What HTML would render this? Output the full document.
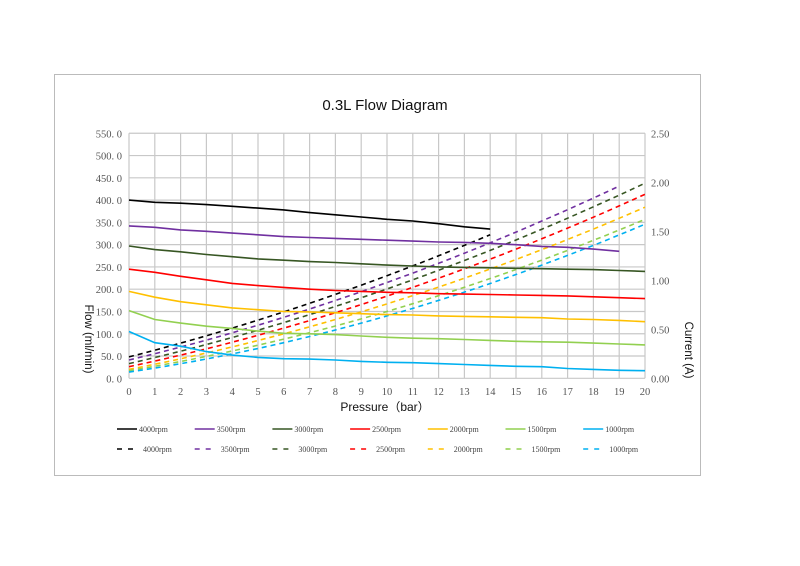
<!DOCTYPE html>
<html><head><meta charset="utf-8"><style>
html,body{margin:0;padding:0;background:#fff;}
svg{display:block;}
</style></head><body>
<svg id="s" width="800" height="566" xmlns="http://www.w3.org/2000/svg" font-family="Liberation Serif, serif">
<rect x="54.5" y="74.5" width="646" height="401" fill="#fff" stroke="#bbb" stroke-width="1"/>
<text x="385" y="110" font-family="Liberation Sans, sans-serif" font-size="15" text-anchor="middle" fill="#111">0.3L Flow Diagram</text>
<g id="grid"></g>
<g id="series"></g>
<g id="labels" font-size="10.5" fill="#555"></g>
<text x="385" y="411" font-family="Liberation Sans, sans-serif" font-size="12" text-anchor="middle" fill="#111">Pressure（bar）</text>
<text transform="translate(85,339) rotate(90)" font-family="Liberation Sans, sans-serif" font-size="11.5" text-anchor="middle" fill="#111">Flow (ml/min)</text>
<text transform="translate(685,350) rotate(90)" font-family="Liberation Sans, sans-serif" font-size="11.5" text-anchor="middle" fill="#111">Current (A)</text>
<g id="legend" font-size="8" fill="#444"></g>
</svg>
<script>
var NS="http://www.w3.org/2000/svg";
function el(p,t,a,txt){var e=document.createElementNS(NS,t);for(var k in a)e.setAttribute(k,a[k]);if(txt!=null)e.textContent=txt;document.getElementById(p).appendChild(e);return e;}
function X(p){return 129+25.8*p;}
function Y(v){return 378.3-0.4455*v;}
for(var i=0;i<=20;i++){el("grid","line",{x1:X(i),x2:X(i),y1:Y(550),y2:Y(0),stroke:"#c8c8c8","stroke-width":1.2});
 el("labels","text",{x:X(i),y:395,"text-anchor":"middle"},String(i));}
for(var v=0;v<=550;v+=50){el("grid","line",{x1:X(0),x2:X(20),y1:Y(v),y2:Y(v),stroke:"#c8c8c8","stroke-width":1.2});
 el("labels","text",{x:122,y:Y(v)+4,"text-anchor":"end"},(v/1).toFixed(0)+". 0");}
for(var k=0;k<=5;k++){el("labels","text",{x:651,y:Y(k*110)+4},(k*0.5).toFixed(2));}
var cols=["#000000","#7030a0","#375623","#ff0000","#ffc000","#92d050","#00b0f0"];
var solid=[
[400,395,393,390,386,382,378,372,367,362,357,353,347,340,335],
[342,339,333,330,326,322,318,316,314,312,310,308,306,305,303,300,296,294,290,285],
[297,289,284,278,273,268,265,262,260,257,254,252,250,249,248,247,246,245,244,242,240],
[245,238,229,221,213,208,204,200,197,195,193,192,190,189,188,187,186,185,183,181,179],
[195,182,172,165,158,154,150,149,147,145,143,142,140,139,138,137,136,133,132,130,127],
[152,132,124,117,112,106,101,100,98,95,92,90,89,87,85,83,82,81,79,77,75],
[105,80,72,60,52,47,44,43,41,38,36,35,33,31,29,27,26,22,20,18,17]];
var dash=[[48,14.8,0.343,14],[41,13.9,0.35,18.9],[33,13.25,0.35,20],[26,12.35,0.35,20],[20,11.2,0.35,20],[17,9.6,0.37,20],[14,8.6,0.4,20]];
for(var s=0;s<7;s++){
 var d=dash[s],pts=[];for(var p=0;p<=d[3]+0.001;p+=0.5){var q=Math.min(p,d[3]);pts.push(X(q).toFixed(1)+","+Y(d[0]+d[1]*q+d[2]*q*q).toFixed(1));}
 if(pts.length && d[3]%0.5){var q=d[3];pts.push(X(q).toFixed(1)+","+Y(d[0]+d[1]*q+d[2]*q*q).toFixed(1));}
 el("series","polyline",{points:pts.join(" "),fill:"none",stroke:cols[s],"stroke-width":1.6,"stroke-dasharray":"5,4"});
}
for(var s=0;s<7;s++){
 var pts=solid[s].map(function(v,i){return X(i).toFixed(1)+","+Y(v).toFixed(1);});
 el("series","polyline",{points:pts.join(" "),fill:"none",stroke:cols[s],"stroke-width":1.6});
}
var names=["4000rpm","3500rpm","3000rpm","2500rpm","2000rpm","1500rpm","1000rpm"];
for(var s=0;s<7;s++){var x=117+77.7*s;
 el("legend","line",{x1:x,x2:x+20,y1:429,y2:429,stroke:cols[s],"stroke-width":1.6});
 el("legend","text",{x:x+22,y:432},names[s]);
 el("legend","line",{x1:x,x2:x+20,y1:449,y2:449,stroke:cols[s],"stroke-width":1.6,"stroke-dasharray":"5,6"});
 el("legend","text",{x:x+26,y:452},names[s]);}
</script>
</body></html>
